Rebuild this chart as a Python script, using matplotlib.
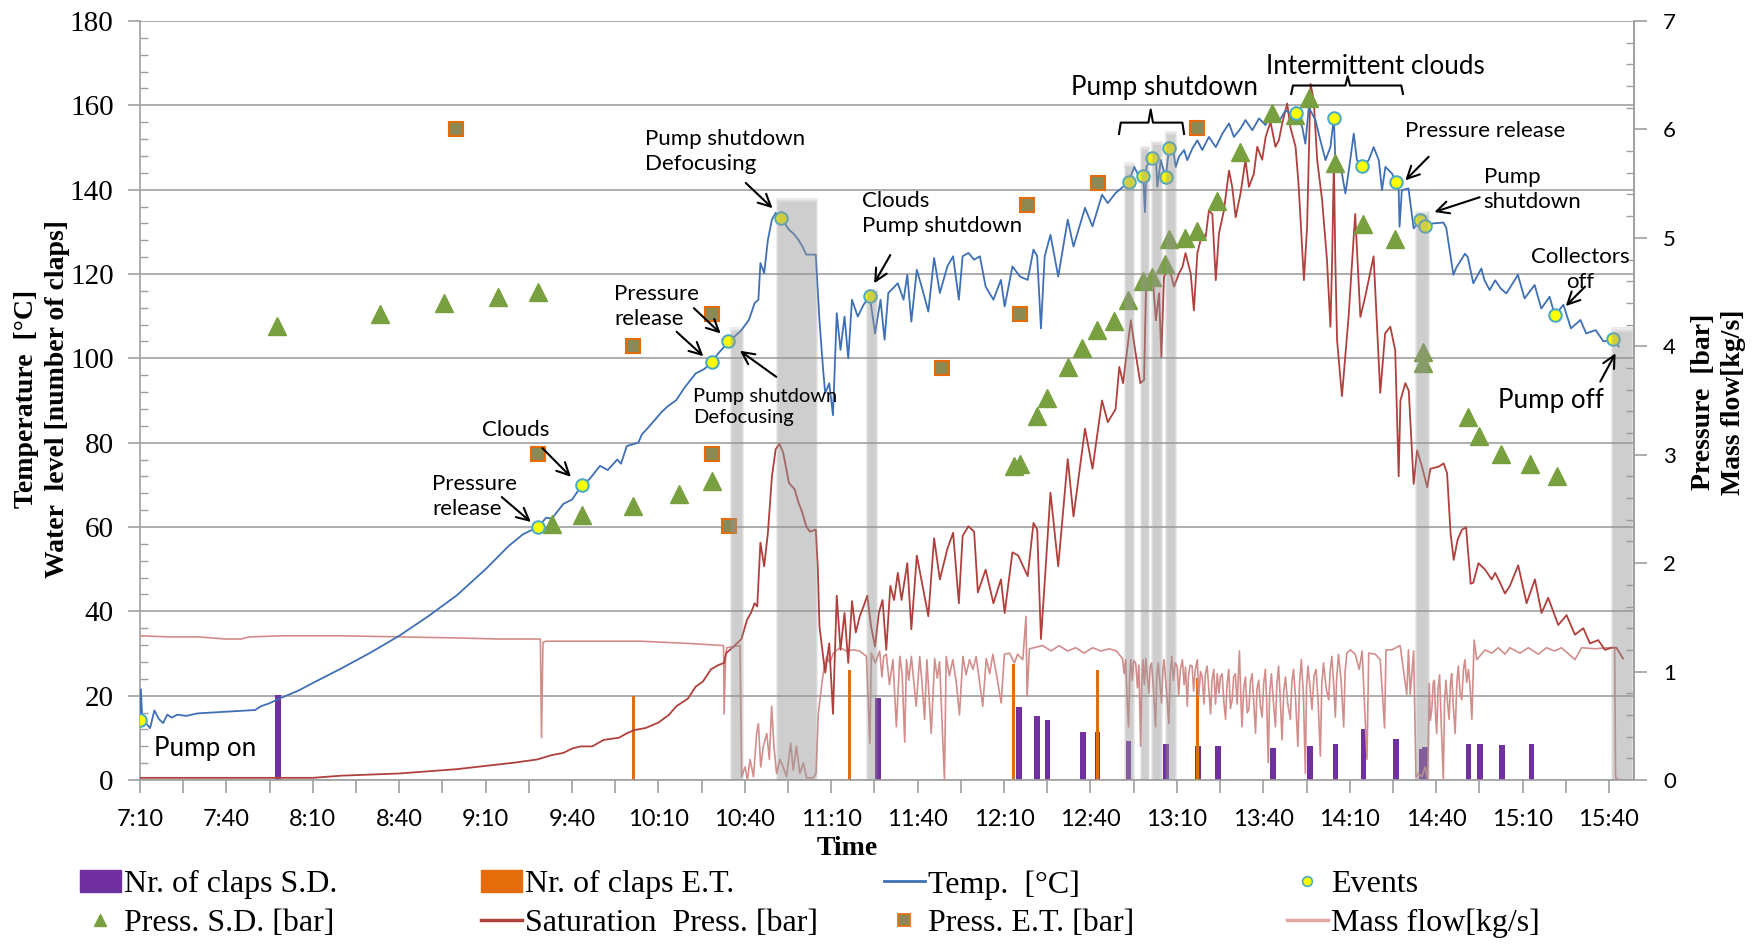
import numpy as np
import matplotlib.pyplot as plt
from matplotlib.lines import Line2D
from matplotlib.patches import Patch

# all times are minutes after 7:10

# temperature [°C]
temp = [(0, 14.3), (0.3, 21.5), (0.8, 14.5), (2, 13.5), (3.5, 12.3), (5, 16.5), (6.5, 14.5), (8, 13.5),
        (9.5, 15.5), (11, 14.8), (13, 15.5), (16, 15.2), (20, 15.8), (25, 16.0), (30, 16.2), (35, 16.4),
        (40, 16.6), (42, 17.5), (45, 18.2), (48, 19.2), (55, 21.2), (60, 23.0), (70, 26.5), (80, 30.2),
        (90, 34.2), (100, 38.8), (110, 43.8), (120, 50.0), (128, 55.5), (133, 58.3), (138.2, 60.0),
        (141, 62.2), (143, 62.0), (147, 65.5), (150, 66.5), (153.5, 70.0), (156, 71.3), (159.7, 74.5),
        (162.4, 73.5), (165.7, 76.0), (167, 75.0), (169, 79.2), (173, 80.0), (174.3, 82.0), (177, 84.0),
        (179.6, 86.1), (181, 87.2), (183, 88.5), (186.2, 90.1), (189, 93.0), (192.9, 96.4), (196, 97.5),
        (198.6, 99.2), (200.8, 101.2), (202.5, 102.5), (204.3, 104.1), (206.5, 105.2), (208.8, 106.7),
        (211.4, 109.1), (213.4, 113.1), (214.7, 113.9), (215.4, 122.6), (216.7, 120.2), (218, 128.1),
        (219.4, 132.9), (220.7, 134.5), (222.6, 133.3), (225.3, 130.5), (227, 129.5), (228.6, 128.1),
        (230, 126.5), (231.3, 124.6), (234.6, 124.6), (235.9, 109.1), (237.2, 97.0), (237.9, 91.7),
        (239.3, 94.1), (240.6, 86.5), (241.9, 110.7), (243.2, 102.0), (244.6, 109.9), (245.9, 100.0),
        (247.2, 113.9), (249.2, 109.9), (251.2, 112.7), (253.4, 114.7), (255.2, 105.9), (257.1, 113.9),
        (258.5, 104.4), (259.8, 115.5), (263.1, 117.8), (265.1, 113.9), (266.4, 119.8), (267.8, 108.7),
        (269.7, 121.0), (271.7, 116.2), (273.7, 111.1), (275.7, 123.8), (277.7, 115.5), (280.3, 121.8),
        (282.3, 124.2), (284.3, 113.9), (285.6, 124.2), (287.6, 125.0), (289.6, 123.4), (291.6, 124.2),
        (293.6, 117.0), (296.3, 113.9), (298.9, 118.6), (300.2, 112.3), (302.9, 121.8), (305.5, 119.4),
        (308.2, 118.6), (310.2, 125.8), (311.5, 124.2), (312.8, 107.1), (314.1, 124.2), (316.1, 129.3),
        (318.8, 119.4), (322.1, 132.9), (324.1, 126.5), (328.1, 135.7), (330.7, 131.3), (334, 138.8),
        (336, 136.8), (338.7, 139.2), (341, 140.5), (343.2, 141.8), (345.2, 145.4), (346.9, 143.0),
        (348.3, 143.2), (348.9, 134.7), (349.4, 145.4), (351.2, 147.6), (352.7, 147.8), (353.2, 140.7),
        (354.4, 147.0), (356.1, 142.9), (357.3, 149.9), (358.7, 149.4), (359.6, 145.4), (360.7, 147.8),
        (362.5, 149.4), (363.6, 147.0), (365.4, 149.8), (367.1, 151.7), (368.8, 149.4), (371.1, 152.5),
        (373.5, 150.1), (375.8, 153.3), (378.1, 155.7), (379.8, 152.5), (382.1, 154.5), (383.8, 156.5),
        (386.2, 154.1), (388.5, 156.9), (390.8, 155.3), (392.5, 158.1), (395.4, 156.1), (397.7, 158.8),
        (399.4, 158.1), (401.2, 158.1), (403.5, 154.9), (404.6, 150.9), (405.8, 159.5), (408.1, 156.5),
        (409.8, 151.7), (411.6, 147.0), (413.3, 150.1), (414.5, 157.1), (415, 147.0), (417.3, 143.8),
        (418.5, 139.1), (419.7, 144.6), (421.4, 153.3), (422.5, 147.0), (424.3, 145.6), (426.6, 147.0),
        (428.3, 150.1), (430.1, 147.0), (431.2, 139.9), (432.4, 145.4), (434.7, 143.8), (436.1, 141.7),
        (437, 139.9), (437.3, 131.2), (438.1, 139.9), (440.4, 140.3), (442.2, 130.8), (444.5, 132.8),
        (446, 131.4), (449, 132.0), (452.5, 132.2), (453.5, 131.0), (456, 119.8), (457, 121.5),
        (460, 124.8), (461, 124.0), (462.9, 117.8), (465.7, 121.3), (466.8, 118.5), (468.6, 116.2),
        (470.5, 118.5), (472.5, 116.5), (474.4, 115.4), (478.4, 119.8), (480.7, 114.2), (484.2, 117.4),
        (486.5, 111.8), (489.4, 114.6), (491.2, 110.2), (494.2, 112.7), (496.8, 107.1), (500.1, 109.1),
        (502.1, 105.9), (505.4, 106.7), (508.1, 104.0), (511.4, 104.5), (513.4, 102.8)]

# saturation pressure [bar]
sat_press = [(0, 0.02), (30, 0.02), (48, 0.02), (60, 0.02), (70, 0.04), (80, 0.05), (90, 0.06), (100, 0.08),
             (110, 0.10), (120, 0.13), (130, 0.16), (138, 0.19), (143, 0.23), (147, 0.25), (150, 0.29),
             (153, 0.31), (157, 0.31), (161, 0.37), (166.3, 0.39), (169, 0.43), (171.6, 0.46), (175.6, 0.48),
             (180, 0.53), (183.6, 0.60), (186.2, 0.68), (190.2, 0.75), (192.9, 0.86), (195.5, 0.91),
             (198.2, 1.02), (200.8, 1.06), (202.8, 1.08), (203.5, 1.17), (206.1, 1.23), (208.8, 1.30),
             (210.8, 1.48), (212.1, 1.54), (213.4, 1.63), (214.3, 1.60), (215.4, 2.19), (216.7, 1.97),
             (218, 2.28), (219.4, 2.80), (220.7, 3.05), (222, 3.10), (223.3, 3.02), (225.3, 2.74),
             (227.3, 2.68), (228.6, 2.56), (229.9, 2.47), (231.3, 2.34), (232.6, 2.29), (234.6, 2.31),
             (235.3, 1.97), (235.9, 1.42), (237.3, 1.11), (237.9, 0.99), (239.3, 1.26), (240.6, 0.61),
             (241.9, 1.70), (243.2, 1.20), (244.6, 1.54), (245.9, 1.08), (247.2, 1.65), (248.5, 1.36),
             (249.9, 1.51), (251.2, 1.60), (252.5, 1.70), (253.8, 1.42), (255.2, 1.23), (256.5, 1.54),
             (257.8, 1.66), (259.1, 1.20), (260.5, 1.79), (261.8, 1.66), (263.1, 1.91), (264.4, 1.66),
             (266.4, 2.00), (267.8, 1.39), (269.7, 2.07), (271.7, 1.79), (273.7, 1.51), (275.7, 2.23),
             (277.7, 1.85), (280.3, 2.13), (282.3, 2.28), (284.3, 1.63), (285.6, 2.25), (287.6, 2.34),
             (289.6, 2.29), (290.9, 1.73), (293.6, 1.94), (296.3, 1.63), (298.9, 1.85), (300.2, 1.54),
             (302.9, 2.10), (304.9, 2.07), (308.2, 1.88), (310.2, 2.37), (311.5, 2.31), (312.8, 1.30),
             (314.1, 1.82), (316.1, 2.65), (318.8, 1.97), (322.1, 2.96), (324.1, 2.43), (328.1, 3.24),
             (330.7, 2.87), (334, 3.50), (336, 3.30), (338.7, 3.42), (340, 3.81), (341.3, 3.66),
             (344, 4.24), (345.3, 4.00), (347.3, 3.66), (348.6, 3.69), (349.3, 4.58), (350.4, 4.64),
             (351.5, 4.67), (352.7, 4.24), (353.8, 4.49), (354.6, 3.90), (355.5, 4.64), (357.3, 4.73),
             (359, 4.55), (360.7, 4.67), (361.9, 4.73), (363, 4.86), (364.8, 4.67), (365.9, 4.33),
             (367.1, 4.86), (368.8, 5.04), (370, 5.01), (371.1, 5.25), (372.3, 5.22), (373.5, 4.61),
             (374.6, 5.04), (376.3, 5.25), (378.1, 5.62), (379.2, 5.47), (380.4, 5.19), (382.1, 5.41),
             (383.8, 5.72), (385, 5.47), (386.7, 5.59), (387.9, 5.84), (389.6, 5.72), (390.8, 5.93),
             (392.5, 6.07), (394.2, 5.84), (395.4, 5.90), (396.6, 6.06), (398.3, 6.24), (399.4, 6.02),
             (401.2, 5.84), (402.3, 5.47), (404.1, 4.61), (405.2, 5.10), (406.4, 6.42), (407.5, 6.27),
             (408.7, 5.72), (410.4, 5.35), (412.1, 4.80), (413.3, 4.18), (413.9, 4.80), (414.5, 5.72),
             (415, 4.80), (415.6, 4.06), (417.3, 3.54), (419.6, 4.27), (421.9, 5.22), (423.7, 4.27),
             (425.4, 4.46), (428.3, 4.83), (430.6, 3.57), (432.3, 4.12), (434.1, 4.18), (435.8, 3.96),
             (437, 2.80), (437.6, 3.50), (439.3, 3.66), (440.5, 3.59), (442.2, 2.73), (443.4, 3.04),
             (445.1, 2.89), (446.9, 2.70), (448, 2.87), (450.9, 2.89), (452.6, 2.92), (453.8, 2.83),
             (455, 2.28), (456.1, 2.03), (457.5, 2.22), (459, 2.31), (460.4, 2.33), (462, 1.81),
             (462.9, 1.82), (464.7, 2.00), (467, 1.94), (469.3, 1.85), (470.5, 1.91), (472.2, 1.82),
             (473.9, 1.72), (475.6, 1.79), (478.5, 1.98), (481.4, 1.63), (484.3, 1.85), (486.6, 1.54),
             (488.9, 1.68), (492.4, 1.43), (495.3, 1.52), (498.2, 1.34), (501.1, 1.40), (503.4, 1.26),
             (506.3, 1.29), (508.6, 1.20), (510.9, 1.22), (512.6, 1.22), (514.9, 1.12)]

# mass flow [kg/s]
mass_flow = [(0, 1.33), (10, 1.32), (20, 1.32), (25, 1.31), (30, 1.30), (35, 1.30), (38, 1.32), (50, 1.33),
             (70, 1.33), (90, 1.32), (110, 1.31), (125, 1.30), (139.0, 1.30), (139.4, 0.39), (139.9, 1.27),
             (141, 1.28), (150, 1.28), (173.7, 1.28), (190, 1.26), (202.6, 1.24), (202.8, 0.61),
             (203.3, 1.14), (203.7, 1.22), (208.3, 1.24), (208.9, 0.03), (210.1, 0.12), (210.9, 0.0),
             (211.8, 0.19), (213, 0.03), (214.1, 0.43), (214.7, 0.52), (215.5, 0.12), (216.4, 0.31),
             (217.6, 0.43), (218.5, 0.19), (219.3, 0.68), (220.1, 0.31), (221, 0.06), (222.2, 0.19),
             (223.3, 0.12), (224.5, 0.03), (225.9, 0.34), (226.8, 0.09), (227.9, 0.31), (229.1, 0.06),
             (230.3, 0.16), (231.4, 0.02), (233.7, 0.02), (234.7, 0.06), (235.5, 0.61), (236.6, 0.86),
             (237.4, 1.02), (238.4, 1.14), (239.5, 1.08), (240.7, 1.17), (243, 1.22), (245.3, 1.19),
             (247.6, 1.20), (249.9, 1.19), (252.2, 1.14), (253.4, 0.34), (253.9, 1.17), (255.3, 1.08),
             (256.8, 1.19), (257.6, 0.95), (258.2, 1.14), (259.1, 1.16), (260.2, 0.88), (261.4, 1.11),
             (262.6, 0.49), (263.8, 1.14), (264.6, 0.98), (265.5, 0.35), (266.1, 1.11), (266.9, 0.92),
             (267.8, 1.14), (269.5, 0.68), (270.7, 1.14), (271.5, 0.90), (272.4, 0.56), (273.2, 1.11),
             (274.7, 0.43), (275.9, 1.12), (276.8, 0.94), (277.6, 1.09), (279.3, 0.0), (279.9, 1.14),
             (281.0, 0.96), (282.2, 1.11), (283.4, 0.90), (284.5, 0.60), (285.7, 1.14), (286.8, 0.97),
             (288, 1.11), (289.2, 1.02), (290.3, 1.14), (291.4, 0.92), (292.6, 0.68), (293.8, 1.12),
             (295.0, 0.98), (296.1, 1.16), (297.5, 0.95), (299, 0.71), (300.1, 1.16), (301.9, 1.17),
             (303.6, 1.08), (304.7, 1.16), (306.5, 1.11), (307.6, 1.51), (308, 0.77), (308.8, 1.21),
             (313.4, 1.24), (316.3, 1.19), (319.1, 1.24), (322, 1.19), (324.9, 1.22), (327.8, 1.17),
             (330.7, 1.22), (333.6, 1.19), (336.5, 1.21), (339, 1.19), (341.1, 1.12), (341.7, 0.98),
             (342.2, 1.11), (342.7, 0.75), (343.2, 0.49), (343.6, 0.95), (344, 1.11), (344.5, 0.92),
             (345, 1.10), (345.7, 1.08), (346.3, 0.85), (346.8, 1.06), (347.4, 0.31), (347.8, 0.90),
             (348.2, 1.11), (348.7, 0.88), (349.2, 1.12), (349.7, 0.96), (350.3, 0.80), (350.7, 1.04),
             (351.2, 1.08), (351.9, 0.82), (352.6, 0.49), (353.0, 0.95), (353.5, 1.08), (354.1, 0.90),
             (354.7, 0.71), (355.1, 1.00), (355.5, 1.11), (356.3, 0.85), (357.2, 0.52), (357.7, 0.98),
             (358.2, 1.14), (358.8, 0.92), (359.4, 1.08), (360.1, 1.05), (360.6, 0.78), (361.2, 1.02),
             (361.9, 1.11), (362.5, 0.88), (363.0, 1.04), (363.6, 0.68), (364.0, 0.95), (364.6, 1.06),
             (365.3, 1.05), (365.8, 0.82), (366.4, 1.02), (367.1, 1.11), (367.6, 0.78), (368.2, 1.00),
             (368.8, 0.95), (369.4, 0.70), (369.9, 0.98), (370.5, 1.05), (371.1, 0.83), (371.7, 0.61),
             (372.2, 0.92), (372.8, 1.02), (373.4, 0.70), (374.0, 0.98), (374.6, 0.80), (375.1, 0.95),
             (375.7, 0.98), (376.3, 0.72), (376.9, 0.56), (377.4, 0.88), (378, 1.02), (378.6, 0.66),
             (379.2, 0.74), (379.7, 0.95), (380.3, 0.98), (380.9, 0.70), (381.7, 1.19), (382.2, 0.75),
             (382.6, 0.49), (383.2, 0.85), (383.8, 0.95), (384.4, 0.62), (385, 0.65), (385.5, 0.90),
             (386.1, 0.98), (386.7, 0.70), (387.3, 0.43), (387.8, 0.84), (388.4, 0.92), (389.0, 0.68),
             (389.6, 0.58), (390.1, 0.88), (390.7, 1.02), (391.2, 0.70), (391.7, 0.16), (392.2, 0.80),
             (392.8, 0.98), (393.5, 0.72), (394.2, 0.49), (394.7, 0.88), (395.3, 1.05), (395.9, 0.74),
             (396.5, 0.37), (397.1, 0.82), (397.7, 0.95), (398.5, 0.70), (399.4, 0.56), (399.9, 0.90),
             (400.5, 1.02), (401.2, 0.75), (402, 0.31), (402.6, 0.90), (403.2, 1.11), (403.9, 0.80),
             (404.6, 0.06), (405.0, 0.85), (405.5, 1.05), (406.2, 0.86), (406.9, 0.65), (407.6, 0.96),
             (408.3, 1.02), (409.0, 0.74), (409.8, 0.22), (410.3, 0.88), (410.9, 1.08), (411.8, 0.85),
             (412.7, 0.74), (413.2, 1.00), (413.8, 1.14), (414.4, 0.90), (415, 0.58), (415.5, 0.95),
             (416.1, 1.16), (417.0, 0.92), (417.9, 0.49), (418.4, 1.00), (419, 1.17), (420.2, 1.20),
             (421.9, 1.16), (423.3, 1.02), (424.3, 1.19), (426, 0.19), (426.6, 1.17), (428.9, 1.16),
             (430.6, 1.11), (432.1, 0.48), (432.6, 1.20), (434.6, 1.20), (437.5, 1.24), (439.8, 0.79),
             (440.4, 1.20), (441, 0.79), (442.2, 1.19), (443, 0.02), (443.9, 0.06), (445, 0.03),
             (446.2, 0.12), (447.1, 0.0), (447.6, 0.89), (448.0, 0.55), (448.5, 0.65), (449.0, 0.90),
             (449.4, 0.92), (449.8, 0.60), (450.2, 0.43), (450.7, 0.85), (451.2, 0.97), (451.8, 0.50),
             (452.5, 0.0), (452.9, 0.70), (453.4, 0.92), (454.0, 0.70), (454.5, 0.56), (455.0, 0.90),
             (455.4, 0.98), (456.0, 0.66), (456.6, 0.43), (457.2, 0.90), (457.7, 1.05), (458.3, 0.80),
             (458.9, 0.74), (459.5, 1.02), (460, 1.11), (460.6, 0.90), (461.2, 1.02), (461.8, 0.85),
             (462.4, 0.56), (463.2, 1.29), (464.1, 1.11), (467, 1.20), (469.3, 1.17), (471.6, 1.22),
             (473.9, 1.16), (475.6, 1.22), (479.1, 1.17), (482, 1.22), (485.5, 1.16), (488.3, 1.22),
             (491.2, 1.19), (493.5, 1.22), (498.2, 1.11), (500.5, 1.22), (505.1, 1.21), (509.7, 1.22),
             (512, 1.22), (512.3, 0.02), (513.7, 0.0)]

# number of claps
claps_sd = [(48, 20.2), (256.3, 19.4), (305.3, 17.3), (311.5, 15.1), (315.1, 14.2), (327.3, 11.5),
            (332.4, 11.5), (343.2, 9.2), (356.2, 8.6), (367.3, 8.0), (374.2, 8.1), (393.3, 7.6),
            (406.1, 8.1), (415.1, 8.6), (424.8, 12.0), (436.1, 9.8), (444.9, 7.3), (446.1, 7.8),
            (461.2, 8.6), (465.2, 8.6), (473.0, 8.2), (483.1, 8.6)]
claps_et = [(171.4, 20.0), (246.4, 26.1), (303.3, 27.5), (332.4, 26.1), (367.1, 24.3)]

# pressure readings [bar]
press_sd = [(47.6, 4.19), (83.2, 4.30), (105.6, 4.40), (124.2, 4.45), (138.2, 4.50), (143.0, 2.36),
            (153.5, 2.44), (171.2, 2.53), (187.3, 2.64), (198.6, 2.76), (303.3, 2.90), (305.5, 2.91),
            (311.5, 3.36), (314.8, 3.52), (322.1, 3.81), (327.1, 3.98), (332.1, 4.15), (338.0, 4.23),
            (343.0, 4.43), (348.1, 4.60), (351.4, 4.64), (355.9, 4.76), (357.1, 4.99), (362.8, 5.00),
            (367.1, 5.06), (374.0, 5.34), (381.8, 5.79), (392.9, 6.15), (401.0, 6.13), (405.8, 6.29),
            (414.8, 5.69), (424.5, 5.13), (435.8, 4.99), (445.4, 3.95), (445.4, 3.85), (460.9, 3.35),
            (464.9, 3.17), (472.5, 3.01), (482.6, 2.91), (491.8, 2.80)]
press_et = [(109.6, 6.00), (138.2, 3.01), (171.2, 4.00), (198.6, 4.30), (198.6, 3.01), (204.4, 2.34),
            (278.4, 3.80), (305.5, 4.30), (307.8, 5.30), (332.6, 5.51), (367.1, 6.01)]

# events on the temperature curve
events = [(0, 14.3), (138.2, 60.0), (153.5, 70.0), (198.6, 99.2), (204.3, 104.1), (222.6, 133.3),
          (253.4, 114.7), (343.2, 141.8), (348.3, 143.2), (351.2, 147.6), (356.1, 142.9), (357.3, 149.9),
          (401.2, 158.1), (414.5, 157.1), (424.3, 145.6), (436.1, 141.7), (444.5, 132.8), (446.0, 131.4),
          (491.2, 110.2), (511.4, 104.5)]

# shaded periods: start, end, height [°C]
shaded = [(205.5, 209.0, 106.3), (221.4, 234.7, 137.0), (252.8, 255.5, 115.5), (342.5, 344.9, 145.4),
          (347.8, 350.1, 149.4), (351.8, 354.4, 150.5), (356.7, 359.4, 152.9), (443.2, 447.2, 134.0),
          (511.5, 518.0, 106.3)]

BLUE = '#3f70b5'
RED = '#b0403c'
PINK = '#d28e8c'
PURPLE = '#7030a0'
ORANGE = '#e46c0a'
GREEN = '#78a040'
OLIVE = '#8b8a55'
GRID = '#a0a0a0'
SERIF = ['Liberation Serif', 'DejaVu Serif']
SANS = ['Lato', 'DejaVu Sans']

C_PER_BAR = 180 / 7


def to_c(p):
    return np.asarray(p) * C_PER_BAR


def to_bar(c):
    return np.asarray(c) / C_PER_BAR


def unzip(pairs):
    a = np.array(pairs, dtype=float)
    return a[:, 0], a[:, 1]


fig = plt.figure(figsize=(17.54, 9.47), dpi=100)
ax = fig.add_axes([140 / 1754, 1 - 780 / 947, (1634 - 140) / 1754, (780 - 21) / 947])

ax.set_xlim(0, 518.7)
ax.set_ylim(0, 180)

# bars
t, h = unzip(claps_sd)
ax.bar(t, h, width=2.0, color=PURPLE, zorder=2)
t, h = unzip(claps_et)
ax.bar(t, h, width=1.0, color=ORANGE, zorder=2.1)

# lines (pressures drawn through the bar scale of the right axis)
t, v = unzip(mass_flow)
ax.plot(t, to_c(v), color=PINK, lw=1.2, zorder=3)
t, v = unzip(sat_press)
ax.plot(t, to_c(v), color=RED, lw=1.3, zorder=4)
t, v = unzip(temp)
ax.plot(t, v, color=BLUE, lw=1.3, zorder=5)

t, v = unzip(press_sd)
ax.plot(t, to_c(v), ls='none', marker='^', ms=12.5, color=GREEN, mec=GREEN, zorder=6)
t, v = unzip(press_et)
ax.plot(t, to_c(v), ls='none', marker='s', ms=10, mfc=OLIVE, mec=ORANGE, mew=1.5, zorder=6)
t, v = unzip(events)
ax.plot(t, v, ls='none', marker='o', ms=9, mfc='#ffff00', mec='#4bacc6', mew=1.5, zorder=6.5)

# soft grey bands over the shutdown periods
for t0, t1, top in shaded:
    for k in range(3):
        d = 0.35 * k
        ax.bar((t0 + t1) / 2, top + d * 1.5, width=(t1 - t0) + 2 * d, color='#989898',
               alpha=0.19, lw=0, zorder=7)

# axes styling
for side in ['left', 'right', 'bottom']:
    ax.spines[side].set_color(GRID)
    ax.spines[side].set_linewidth(1.2)
ax.spines['top'].set_visible(False)
ax.yaxis.grid(True, color=GRID, lw=1.2)
ax.set_axisbelow(True)

ax.set_xticks(np.arange(0, 511, 15))
labels = []
for m in np.arange(0, 511, 15):
    if m % 30 == 0:
        tot = 7 * 60 + 10 + m
        labels.append(f'{tot // 60}:{tot % 60:02d}')
    else:
        labels.append('')
ax.set_xticklabels(labels, fontfamily=SANS, fontsize=17)
ax.tick_params(axis='x', direction='out', length=9, width=1.2, color=GRID, pad=12)

ax.set_yticks(np.arange(0, 181, 20))
ax.set_yticks(np.arange(0, 181, 4), minor=True)
ax.set_yticklabels([str(v) for v in range(0, 181, 20)], fontfamily=SERIF, fontsize=21)
ax.tick_params(axis='y', which='major', direction='out', length=9, width=1.2, color=GRID, pad=10)
ax.tick_params(axis='y', which='minor', direction='in', length=6, width=1.0, color=GRID)

sec = ax.secondary_yaxis('right', functions=(to_bar, to_c))
sec.set_yticks(np.arange(0, 8, 1))
sec.set_yticks(np.arange(0, 7.01, 0.2), minor=True)
sec.set_yticklabels([str(v) for v in range(8)], fontfamily=SANS, fontsize=16)
sec.tick_params(axis='y', which='major', direction='out', length=9, width=1.2, color=GRID, pad=12)
sec.tick_params(axis='y', which='minor', direction='in', length=6, width=1.0, color=GRID)
sec.spines['right'].set_color(GRID)
sec.spines['right'].set_linewidth(1.2)

# axis titles
fig.text(27 / 1754, 1 - 399 / 947, 'Temperature  [°C]', rotation=90, ha='center', va='center',
         fontfamily=SERIF, fontsize=20, fontweight='bold')
fig.text(58 / 1754, 1 - 399 / 947, 'Water  level [number of claps]', rotation=90, ha='center',
         va='center', fontfamily=SERIF, fontsize=20, fontweight='bold')
fig.text(1703 / 1754, 1 - 402 / 947, 'Pressure  [bar]', rotation=90, ha='center', va='center',
         fontfamily=SERIF, fontsize=20, fontweight='bold')
fig.text(1734 / 1754, 1 - 402 / 947, 'Mass flow[kg/s]', rotation=90, ha='center', va='center',
         fontfamily=SERIF, fontsize=20, fontweight='bold')
fig.text(847 / 1754, 1 - 848 / 947, 'Time', ha='center', va='center', fontfamily=SERIF,
         fontsize=20, fontweight='bold')

# annotations
note = dict(fontfamily=SANS, fontsize=16, color='black', zorder=9, linespacing=1.3)
big = dict(note, fontsize=18.7)
small = dict(note, fontsize=14.5)
arrow = dict(arrowstyle='->', color='black', lw=1.5, mutation_scale=22, shrinkA=0, shrinkB=0)


def pointer(tail, head):
    ax.annotate('', xy=head, xytext=tail, arrowprops=arrow, zorder=9)


def brace(t0, t1, tc, y, drop, rise):
    ax.plot([t0, t0 + 0.6, tc - 0.8, tc, tc + 0.8, t1 - 0.6, t1],
            [y - drop, y, y, y + rise, y, y, y - drop], color='black', lw=1.5, zorder=9)


ax.text(4.9, 7.5, 'Pump on', ha='left', va='center', **big)
ax.text(101.4, 67.3, 'Pressure\nrelease', ha='left', va='center', **note)
pointer((125.6, 67.1), (135.7, 61.2))
ax.text(130.6, 83.0, 'Clouds', ha='center', va='center', **note)
pointer((139.7, 78.7), (149.6, 71.9))
ax.text(175.3, 149.0, 'Pump shutdown\nDefocusing', ha='left', va='center', **note)
pointer((210.3, 141.6), (219.6, 135.6))
ax.text(164.7, 112.3, 'Pressure\nrelease', ha='left', va='center', **note)
pointer((192.3, 111.9), (201.6, 105.9))
pointer((186.3, 106.3), (195.6, 100.5))
ax.text(192.0, 88.5, 'Pump shutdown\nDefocusing', ha='left', va='center', **small)
pointer((220.9, 95.6), (208.3, 101.8))
ax.text(250.5, 134.3, 'Clouds\nPump shutdown', ha='left', va='center', **note)
pointer((260.5, 124.5), (254.9, 117.8))
ax.text(355.8, 164.2, 'Pump shutdown', ha='center', va='center', **big)
brace(339.9, 362.5, 350.9, 155.9, 2.7, 3.1)
ax.text(429.0, 169.1, 'Intermittent clouds', ha='center', va='center', **big)
brace(399.7, 438.5, 419.3, 164.7, 2.0, 2.2)
ax.text(439.3, 153.8, 'Pressure release', ha='left', va='center', **note)
pointer((447.4, 147.8), (439.3, 142.2))
ax.text(466.5, 140.1, 'Pump\nshutdown', ha='left', va='center', **note)
pointer((465.1, 138.2), (449.4, 134.7))
ax.text(500.0, 121.1, 'Collectors\noff', ha='center', va='center', **note)
pointer((501.7, 117.0), (495.0, 112.4))
ax.text(489.8, 90.1, 'Pump off', ha='center', va='center', **big)
pointer((507.0, 94.5), (512.3, 101.2))

# legend, four columns of two entries
h_sd = Patch(facecolor=PURPLE, edgecolor=PURPLE)
h_et = Patch(facecolor=ORANGE, edgecolor=ORANGE)
h_temp = Line2D([], [], color=BLUE, lw=2)
h_ev = Line2D([], [], ls='none', marker='o', ms=7, mfc='#ffff00', mec='#4bacc6', mew=1.2)
h_psd = Line2D([], [], ls='none', marker='^', ms=9, color=GREEN)
h_sat = Line2D([], [], color=RED, lw=2.5)
h_pet = Line2D([], [], ls='none', marker='s', ms=8, mfc=OLIVE, mec=ORANGE, mew=1.2)
h_mf = Line2D([], [], color='#e3a6a4', lw=2.5)

columns = [
    (80, [h_sd, h_psd], ['Nr. of claps S.D.', 'Press. S.D. [bar]']),
    (481, [h_et, h_sat], ['Nr. of claps E.T.', 'Saturation  Press. [bar]']),
    (884, [h_temp, h_pet], ['Temp.  [°C]', 'Press. E.T. [bar]']),
    (1287, [h_ev, h_mf], ['Events', 'Mass flow[kg/s]']),
]
for x0, hs, ls in columns:
    fig.legend(hs, ls, loc='upper left', bbox_to_anchor=(x0 / 1754, 1 - 870 / 947), frameon=False,
               prop={'family': SERIF, 'size': 23}, handlelength=1.27, handleheight=0.7,
               handletextpad=0.1, labelspacing=0.29, borderpad=0, borderaxespad=0)

fig.savefig('out.png', dpi=100)
